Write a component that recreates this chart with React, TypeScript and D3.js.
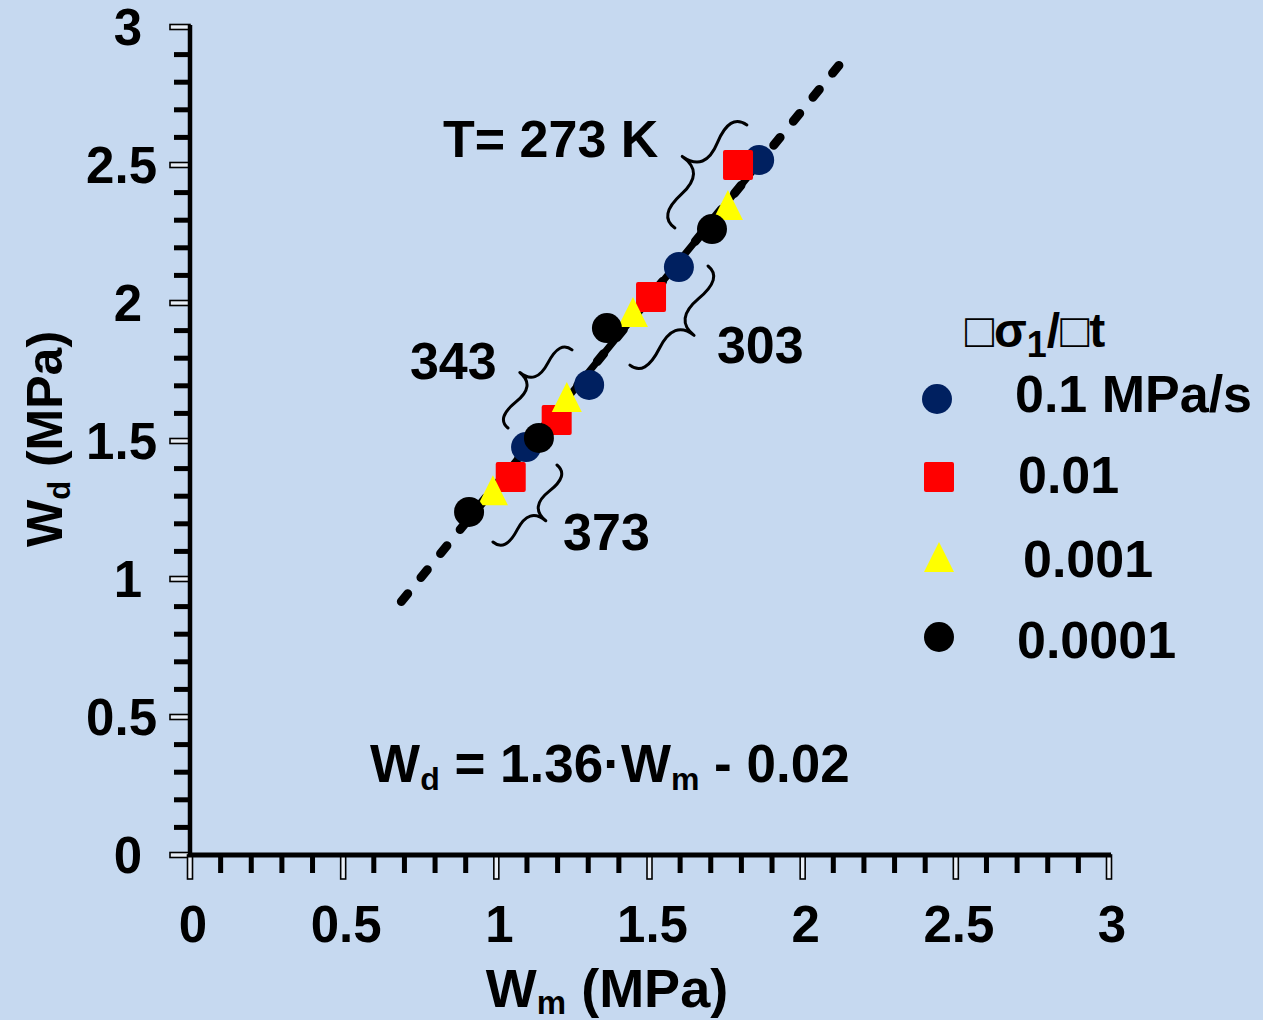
import React from 'react';
import * as d3 from 'd3';

const WIDTH = 1263;
const HEIGHT = 1020;

// Axis ticks
const majorTicks = [0, 0.5, 1, 1.5, 2, 2.5, 3];
const majorTickLabels = ['0', '0.5', '1', '1.5', '2', '2.5', '3'];
const minorTicks = [0.1, 0.2, 0.3, 0.4, 0.6, 0.7, 0.8, 0.9, 1.1, 1.2, 1.3, 1.4, 1.6, 1.7, 1.8, 1.9, 2.1, 2.2, 2.3, 2.4, 2.6, 2.7, 2.8, 2.9];

// Series (stress rate dσ1/dt)
const seriesLabels = ['0.1 MPa/s', '0.01', '0.001', '0.0001'];
const wm_01 = [1.858, 1.596, 1.303, 1.097];
const wd_01 = [2.518, 2.13, 1.703, 1.478];
const wm_001 = [1.789, 1.505, 1.197, 1.047];
const wd_001 = [2.5, 2.022, 1.576, 1.37];
const wm_0001 = [1.756, 1.446, 1.23, 0.989];
const wd_0001 = [2.355, 1.967, 1.659, 1.322];
const wm_00001 = [1.704, 1.361, 1.139, 0.911];
const wd_00001 = [2.268, 1.909, 1.511, 1.243];

// Fit line Wd = 1.36·Wm - 0.02
const fitSlope = 1.36;
const fitIntercept = -0.02;
const fitSolidRange = [0.91, 1.86];
const fitDashedRange = [0.69, 2.13];

// Temperature group annotations (braces), in data units
const braceLabels = ['T= 273 K', '303', '343', '373'];
const braceStartWm = [1.818, 1.691, 1.247, 1.198];
const braceStartWd = [2.645, 2.134, 1.83, 1.413];
const braceEndWm = [1.583, 1.436, 1.038, 0.989];
const braceEndWd = [2.272, 1.775, 1.547, 1.134];
const braceSide = [1, -1, 1, -1];
const labelWm = [0.826, 1.72, 0.718, 1.218];
const labelWd = [2.529, 1.783, 1.725, 1.105];

const FONT = "'Liberation Sans', Arial, Helvetica, sans-serif";
const BG = '#C6D9F0';

function bracePath(x1: number, y1: number, x2: number, y2: number, w: number, q: number) {
  let dx = x1 - x2;
  let dy = y1 - y2;
  const len = Math.sqrt(dx * dx + dy * dy);
  dx /= len;
  dy /= len;
  const qx1 = x1 + q * w * dy;
  const qy1 = y1 - q * w * dx;
  const qx2 = x1 - 0.25 * len * dx + (1 - q) * w * dy;
  const qy2 = y1 - 0.25 * len * dy - (1 - q) * w * dx;
  const tx1 = x1 - 0.5 * len * dx + w * dy;
  const ty1 = y1 - 0.5 * len * dy - w * dx;
  const qx3 = x2 + q * w * dy;
  const qy3 = y2 - q * w * dx;
  const qx4 = x1 - 0.75 * len * dx + (1 - q) * w * dy;
  const qy4 = y1 - 0.75 * len * dy - (1 - q) * w * dx;
  return `M ${x1} ${y1} Q ${qx1} ${qy1} ${qx2} ${qy2} T ${tx1} ${ty1} M ${x2} ${y2} Q ${qx3} ${qy3} ${qx4} ${qy4} T ${tx1} ${ty1}`;
}

export default function App() {
  const x = d3.scaleLinear().domain([0, 3]).range([190, 1109]);
  const y = d3.scaleLinear().domain([0, 3]).range([855, 27]);

  const fit = (v: number) => fitSlope * v + fitIntercept;
  const line = d3.line<number>().x((v) => x(v)).y((v) => y(fit(v)));

  const circle = (cx: number, cy: number, fill: string, key: string) => (
    <circle key={key} cx={cx} cy={cy} r={15} fill={fill} />
  );
  const square = (cx: number, cy: number, key: string) => (
    <rect key={key} x={cx - 15} y={cy - 15} width={30} height={30} rx={2} fill="#FF0000" />
  );
  const triangle = (cx: number, cy: number, key: string) => (
    <path key={key} d={`M ${cx} ${cy - 15} L ${cx + 15} ${cy + 15} L ${cx - 15} ${cy + 15} Z`} fill="#FFFF00" />
  );

  const braceW = [35, 32, 26, 27];

  return (
    <svg width={WIDTH} height={HEIGHT} style={{ position: 'absolute', left: 0, top: 0, display: 'block' }} fontFamily={FONT}>
      <rect x={0} y={0} width={WIDTH} height={HEIGHT} fill={BG} />

      {/* Y minor ticks */}
      {minorTicks.map((t) => (
        <rect key={'ym' + t} x={x(0) - 16} y={y(t) - 2.5} width={16} height={5} fill="#000" />
      ))}
      {/* Y major ticks (hollow) */}
      {majorTicks.map((t) => (
        <rect key={'yM' + t} x={x(0) - 20} y={y(t) - 2.5} width={20} height={5} fill="#E8EEF6" stroke="#000" strokeWidth={1.6} />
      ))}
      {/* X minor ticks */}
      {minorTicks.map((t) => (
        <rect key={'xm' + t} x={x(t) - 2.5} y={y(0)} width={5} height={18} fill="#000" />
      ))}
      {/* X major ticks (hollow) */}
      {majorTicks.map((t) => (
        <rect key={'xM' + t} x={x(t) - 2.5} y={y(0)} width={5} height={24} fill="#E8EEF6" stroke="#000" strokeWidth={1.6} />
      ))}
      {/* Axes lines */}
      <line x1={x(0)} y1={y(3) - 2} x2={x(0)} y2={y(0) + 2} stroke="#000" strokeWidth={4.5} />
      <line x1={x(0) - 2} y1={y(0)} x2={x(3) + 2} y2={y(0)} stroke="#000" strokeWidth={5} />

      {/* Tick labels */}
      {majorTicks.map((t, i) => (
        <text key={'yl' + t} x={157 - (Number.isInteger(t) ? 15 : 0)} y={y(t) + 18} textAnchor="end" fontSize={51} fontWeight="bold" fill="#000">
          {majorTickLabels[i]}
        </text>
      ))}
      {majorTicks.map((t, i) => (
        <text key={'xl' + t} x={x(t) + 3} y={942} textAnchor="middle" fontSize={51} fontWeight="bold" fill="#000">
          {majorTickLabels[i]}
        </text>
      ))}

      {/* Axis titles */}
      <text x={607} y={1007} textAnchor="middle" fontSize={54} fontWeight="bold" fill="#000">
        W<tspan fontSize={33} dy={7}>m</tspan>
        <tspan dy={-7}> (MPa)</tspan>
      </text>
      <text transform="translate(62,439) rotate(-90)" textAnchor="middle" fontSize={50} fontWeight="bold" fill="#000">
        W<tspan fontSize={31} dy={8}>d</tspan>
        <tspan dy={-8}> (MPa)</tspan>
      </text>

      {/* Fit line */}
      <path d={line(fitDashedRange) || ''} stroke="#000" strokeWidth={9} strokeLinecap="round" strokeDasharray="10 21" fill="none" />
      <path d={line(fitSolidRange) || ''} stroke="#000" strokeWidth={7} strokeLinecap="round" fill="none" />

      {/* Data */}
      {wm_01.map((v, i) => circle(x(v), y(wd_01[i]), '#002060', 'b' + i))}
      {wm_001.map((v, i) => square(x(v), y(wd_001[i]), 'r' + i))}
      {wm_0001.map((v, i) => triangle(x(v), y(wd_0001[i]), 't' + i))}
      {wm_00001.map((v, i) => circle(x(v), y(wd_00001[i]), '#000000', 'k' + i))}

      {/* Braces and labels */}
      {braceLabels.map((lab, i) => (
        <g key={'br' + i}>
          <path
            d={bracePath(x(braceStartWm[i]), y(braceStartWd[i]), x(braceEndWm[i]), y(braceEndWd[i]), braceSide[i] * braceW[i], 0.6)}
            stroke="#000"
            strokeWidth={3}
            fill="none"
            strokeLinecap="round"
          />
          <text x={x(labelWm[i])} y={y(labelWd[i])} fontSize={52} fontWeight="bold" fill="#000">
            {lab}
          </text>
        </g>
      ))}

      {/* Equation */}
      <text x={x(0.588)} y={y(0.264)} fontSize={53} fontWeight="bold" fill="#000">
        W<tspan fontSize={32} dy={8}>d</tspan>
        <tspan dy={-8}> = 1.36·W</tspan>
        <tspan fontSize={32} dy={8}>m</tspan>
        <tspan dy={-8}> - 0.02</tspan>
      </text>

      {/* Legend */}
      <text x={965} y={347} fontSize={48} fontWeight="bold" fill="#000">
        □σ<tspan fontSize={36} dy={10}>1</tspan>
        <tspan dy={-10}>/□t</tspan>
      </text>
      {circle(937, 399, '#002060', 'lg0')}
      <text x={1015} y={412} fontSize={52} fontWeight="bold">{seriesLabels[0]}</text>
      {square(939, 477, 'lg1')}
      <text x={1018} y={493} fontSize={52} fontWeight="bold">{seriesLabels[1]}</text>
      {triangle(939, 557, 'lg2')}
      <text x={1023} y={577} fontSize={52} fontWeight="bold">{seriesLabels[2]}</text>
      {circle(939, 637, '#000000', 'lg3')}
      <text x={1017} y={658} fontSize={52} fontWeight="bold">{seriesLabels[3]}</text>
    </svg>
  );
}
